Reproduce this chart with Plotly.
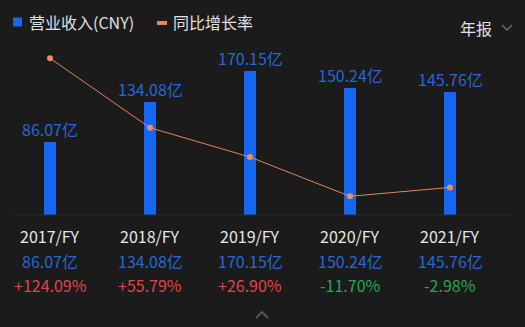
import plotly.graph_objects as go

categories = ["2017/FY", "2018/FY", "2019/FY", "2020/FY", "2021/FY"]
revenue = [86.07, 134.08, 170.15, 150.24, 145.76]
revenue_labels = ["86.07亿", "134.08亿", "170.15亿", "150.24亿", "145.76亿"]
growth = [124.09, 55.79, 26.90, -11.70, -2.98]
growth_labels = ["+124.09%", "+55.79%", "+26.90%", "-11.70%", "-2.98%"]

BG = "#1b1b1b"
BAR = "#1667f0"
LBL_BLUE = "#2767d6"
LINE = "#e8845a"
FONT = "Noto Sans CJK SC"
FS = 16
W, H = 525, 327
L, R, T, B = 0, 25, 46, 112
PW, PH = W - L - R, H - T - B

def px(x):
    return (x - L) / PW

def py(y):
    return (H - B - y) / PH

fig = go.Figure()
fig.add_trace(go.Bar(x=categories, y=revenue, width=0.12, marker=dict(color=BAR, line=dict(width=0)),
                     showlegend=False, hoverinfo="skip"))
fig.add_trace(go.Scatter(x=categories, y=growth, yaxis="y2", mode="lines+markers",
                         line=dict(color=LINE, width=1), marker=dict(color="#f28c5c", size=6),
                         showlegend=False, hoverinfo="skip"))

ann = []
for c, v, lab in zip(categories, revenue, revenue_labels):
    ann.append(dict(x=c, y=v, xref="x", yref="y", text=lab, showarrow=False, yanchor="bottom",
                    yshift=-1, font=dict(family=FONT, size=FS, color=LBL_BLUE)))
for c, lab, g, gl in zip(categories, revenue_labels, growth, growth_labels):
    ann.append(dict(x=c, y=py(236), xref="x", yref="paper", text=c, showarrow=False, yanchor="middle",
                    font=dict(family=FONT, size=FS, color="#e8e8e8")))
    ann.append(dict(x=c, y=py(261), xref="x", yref="paper", text=lab, showarrow=False, yanchor="middle",
                    font=dict(family=FONT, size=FS, color=LBL_BLUE)))
    ann.append(dict(x=c, y=py(285), xref="x", yref="paper", text=gl, showarrow=False, yanchor="middle",
                    font=dict(family=FONT, size=FS, color="#e04545" if g >= 0 else "#22a852")))
# legend
ann.append(dict(x=px(27), y=py(22), xref="paper", yref="paper", text="营业收入(CNY)", showarrow=False,
                xanchor="left", yanchor="middle", font=dict(family=FONT, size=FS, color="#e0e0e0")))
ann.append(dict(x=px(171), y=py(22), xref="paper", yref="paper", text="同比增长率", showarrow=False,
                xanchor="left", yanchor="middle", font=dict(family=FONT, size=FS, color="#e0e0e0")))
ann.append(dict(x=px(458), y=py(28), xref="paper", yref="paper", text="年报", showarrow=False,
                xanchor="left", yanchor="middle", font=dict(family=FONT, size=FS, color="#e0e0e0")))

shapes = [
    dict(type="line", xref="paper", yref="paper", x0=px(13), x1=px(514), y0=0, y1=0,
         line=dict(color="#2c2c2c", width=1)),
    dict(type="rect", xref="paper", yref="paper", x0=px(13), x1=px(22), y0=py(17.5), y1=py(26.5),
         fillcolor=BAR, line=dict(width=0)),
    dict(type="rect", xref="paper", yref="paper", x0=px(157), x1=px(167), y0=py(21), y1=py(25),
         fillcolor=LINE, line=dict(width=0)),
    dict(type="path", xref="paper", yref="paper",
         path=f"M {px(502)} {py(25)} L {px(507)} {py(30)} L {px(512)} {py(25)}",
         line=dict(color="#6a6a6a", width=1.5)),
    dict(type="path", xref="paper", yref="paper",
         path=f"M {px(256)} {py(318)} L {px(262)} {py(312)} L {px(268)} {py(318)}",
         line=dict(color="#555555", width=2)),
]

fig.update_layout(
    width=W, height=H, margin=dict(l=L, r=R, t=T, b=B),
    paper_bgcolor=BG, plot_bgcolor=BG,
    xaxis=dict(type="category", range=[-0.5, 4.5], showgrid=False, showline=False,
               showticklabels=False, zeroline=False, fixedrange=True),
    yaxis=dict(range=[0, 199.8], visible=False, showgrid=False, zeroline=False),
    yaxis2=dict(range=[-30.1, 136.2], overlaying="y", visible=False, showgrid=False, zeroline=False),
    annotations=ann, shapes=shapes, showlegend=False, bargap=0,
)
fig.write_html("out.html")
